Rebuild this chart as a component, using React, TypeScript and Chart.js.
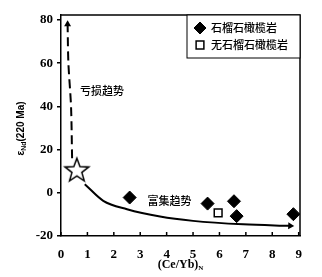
import React, { useEffect, useRef } from "react";
import { Chart, registerables } from "chart.js";
import { drawPoint } from "chart.js/helpers";

Chart.register(...registerables);

// ---- data ----
const garnetX = [2.6, 5.55, 6.55, 6.65, 8.8];
const garnetY = [-2.2, -5, -3.9, -10.8, -9.9];
const noGarnetX = [5.95];
const noGarnetY = [-9.3];
const starX = [0.6];
const starY = [10.2];
const enrichX = [0.9, 1.6, 2.5, 3.75, 5.0, 6.9, 8.68];
const enrichY = [4, -3.7, -7.6, -11, -13, -14.6, -15.3];
const depleteX = [0.42, 0.38, 0.28, 0.25];
const depleteY = [16, 40, 60, 78];
const xTicks = [0, 1, 2, 3, 4, 5, 6, 7, 8, 9];
const yTicks = [-20, 0, 20, 40, 60, 80];
const legendLabels = ["石榴石橄榄岩", "无石榴石橄榄岩"];
const depleteLabel = "亏损趋势";
const enrichLabel = "富集趋势";

const toPts = (xs: number[], ys: number[]) => xs.map((x, i) => ({ x, y: ys[i] }));

function makeStar(): HTMLCanvasElement {
  const c = document.createElement("canvas");
  c.width = 30;
  c.height = 30;
  const g = c.getContext("2d")!;
  const cx = 15, cy = 15, R = 12.5, r = 5.2;
  g.beginPath();
  for (let i = 0; i < 10; i++) {
    const a = -Math.PI / 2 + (i * Math.PI) / 5;
    const rr = i % 2 === 0 ? R : r;
    const px = cx + rr * Math.cos(a), py = cy + rr * Math.sin(a);
    if (i === 0) g.moveTo(px, py); else g.lineTo(px, py);
  }
  g.closePath();
  g.fillStyle = "#fff";
  g.fill();
  g.lineWidth = 1.5;
  g.strokeStyle = "#000";
  g.stroke();
  return c;
}

const CJK = '"Noto Sans CJK SC", sans-serif';

const annotPlugin = {
  id: "annot",
  afterDatasetsDraw(chart: any) {
    const { ctx, chartArea: ca, scales } = chart;
    const xs = scales.x, ys = scales.y;
    ctx.save();
    ctx.strokeStyle = "#000";
    ctx.lineWidth = 1.5;
    // top & right frame
    ctx.beginPath();
    ctx.moveTo(ca.left, ca.top);
    ctx.lineTo(ca.right, ca.top);
    ctx.lineTo(ca.right, ca.bottom);
    ctx.stroke();
    // inside x ticks
    xs.ticks.forEach((t: any) => {
      const px = xs.getPixelForValue(t.value);
      ctx.beginPath();
      ctx.moveTo(px, ca.bottom);
      ctx.lineTo(px, ca.bottom - 4);
      ctx.stroke();
    });
    // legend
    const lw = 113, lh = 43;
    const lx = ca.right - lw, ly = ca.top;
    ctx.lineWidth = 1;
    ctx.fillStyle = "#fff";
    ctx.fillRect(lx, ly, lw, lh);
    ctx.strokeRect(lx, ly, lw, lh);
    const rows = [ly + 13, ly + 30];
    drawPoint(ctx, { pointStyle: "rectRot", radius: 6, borderWidth: 1 } as any, lx + 13, rows[0]);
    ctx.fillStyle = "#000";
    ctx.fill();
    ctx.fillStyle = "#fff";
    ctx.strokeStyle = "#000";
    ctx.lineWidth = 1.5;
    drawPoint(ctx, { pointStyle: "rect", radius: 5.5, borderWidth: 1.5 } as any, lx + 13, rows[1]);
    ctx.fillStyle = "#000";
    ctx.font = `500 11px ${CJK}`;
    ctx.textAlign = "left";
    ctx.textBaseline = "middle";
    ctx.fillText(legendLabels[0], lx + 24, rows[0]);
    ctx.fillText(legendLabels[1], lx + 24, rows[1]);
    // trend labels
    ctx.font = `500 11px ${CJK}`;
    ctx.fillText(depleteLabel, xs.getPixelForValue(0.72), ys.getPixelForValue(47.2));
    ctx.fillText(enrichLabel, xs.getPixelForValue(3.28), ys.getPixelForValue(-3.7));
    // y title (rotated, subscript)
    ctx.save();
    ctx.translate(21, (ca.top + ca.bottom) / 2 + 3);
    ctx.rotate(-Math.PI / 2);
    ctx.textBaseline = "middle";
    const f1 = 'bold 10px "Liberation Sans", Arial, sans-serif';
    const f2 = 'bold 7px "Liberation Sans", Arial, sans-serif';
    ctx.font = f1;
    const w1 = ctx.measureText("ε").width;
    const w3 = ctx.measureText("(220 Ma)").width;
    ctx.font = f2;
    const w2 = ctx.measureText("Nd").width;
    let sx = -(w1 + w2 + w3) / 2;
    ctx.font = f1;
    ctx.fillText("ε", sx, 0);
    sx += w1;
    ctx.font = f2;
    ctx.fillText("Nd", sx, 3);
    sx += w2;
    ctx.font = f1;
    ctx.fillText("(220 Ma)", sx, 0);
    ctx.restore();
    // x title
    const g1 = 'bold 12px "Liberation Serif", "Times New Roman", serif';
    const g2 = 'bold 7px "Liberation Serif", "Times New Roman", serif';
    ctx.font = g1;
    const a1 = ctx.measureText("(Ce/Yb)").width;
    ctx.font = g2;
    const a2 = ctx.measureText("N").width;
    let tx = (ca.left + ca.right) / 2 - (a1 + a2) / 2;
    ctx.textBaseline = "middle";
    ctx.font = g1;
    ctx.fillText("(Ce/Yb)", tx, 265);
    ctx.font = g2;
    ctx.fillText("N", tx + a1, 268);
    ctx.restore();
  },
};

export default function App() {
  const ref = useRef<HTMLCanvasElement>(null);
  useEffect(() => {
    const star = makeStar();
    const tickFont = { family: '"Liberation Serif", "Times New Roman", serif', size: 13, weight: "bold" as const };
    const chart = new Chart(ref.current!, {
      type: "scatter",
      data: {
        datasets: [
          {
            label: "enrich",
            data: toPts(enrichX, enrichY),
            showLine: true,
            borderColor: "#000",
            backgroundColor: "#000",
            borderWidth: 2,
            cubicInterpolationMode: "monotone",
            pointRadius: enrichX.map((_, i) => (i === enrichX.length - 1 ? 4 : 0)),
            pointStyle: "triangle",
            rotation: 92,
            pointBorderWidth: 0,
          } as any,
          {
            label: "deplete",
            data: toPts(depleteX, depleteY),
            showLine: true,
            borderColor: "#000",
            backgroundColor: "#000",
            borderWidth: 2,
            borderDash: [9, 5],
            tension: 0.3,
            pointRadius: depleteX.map((_, i) => (i === depleteX.length - 1 ? 4 : 0)),
            pointStyle: "triangle",
            pointBorderWidth: 0,
          } as any,
          {
            label: "star",
            data: toPts(starX, starY),
            pointStyle: star,
            pointRadius: 13,
          } as any,
          {
            label: legendLabels[0],
            data: toPts(garnetX, garnetY),
            pointStyle: "rectRot",
            pointRadius: 6.5,
            backgroundColor: "#000",
            borderColor: "#000",
            borderWidth: 1,
          },
          {
            label: legendLabels[1],
            data: toPts(noGarnetX, noGarnetY),
            pointStyle: "rect",
            pointRadius: 5.5,
            backgroundColor: "#fff",
            borderColor: "#000",
            borderWidth: 1.5,
          },
        ],
      },
      options: {
        animation: false,
        responsive: false,
        devicePixelRatio: 1,
        layout: { padding: { top: 15, right: 22, left: 0, bottom: 0 } },
        plugins: { legend: { display: false }, tooltip: { enabled: false } },
        scales: {
          x: {
            type: "linear",
            min: 0,
            max: 9.05,
            afterBuildTicks: (s: any) => {
              s.ticks = xTicks.map((v) => ({ value: v }));
            },
            afterFit: (s: any) => {
              s.height = 41;
            },
            grid: { display: false },
            border: { display: true, color: "#000", width: 1.5 },
            ticks: { color: "#000", font: tickFont, padding: 3, maxRotation: 0, autoSkip: false },
          },
          y: {
            type: "linear",
            min: -20,
            max: 82.3,
            afterBuildTicks: (s: any) => {
              s.ticks = yTicks.map((v) => ({ value: v }));
            },
            afterFit: (s: any) => {
              s.width = 61;
            },
            grid: { display: true, drawOnChartArea: false, drawTicks: true, tickLength: 4, color: "#000", lineWidth: 1.5 },
            border: { display: true, color: "#000", width: 1.5 },
            ticks: { color: "#000", font: tickFont, padding: 4, autoSkip: false },
          },
        },
      } as any,
      plugins: [annotPlugin],
    });
    return () => chart.destroy();
  }, []);
  return (
    <div style={{ position: "absolute", left: 0, top: 0, width: 322, height: 277, background: "#fff" }}>
      <canvas ref={ref} width={322} height={277} />
    </div>
  );
}
